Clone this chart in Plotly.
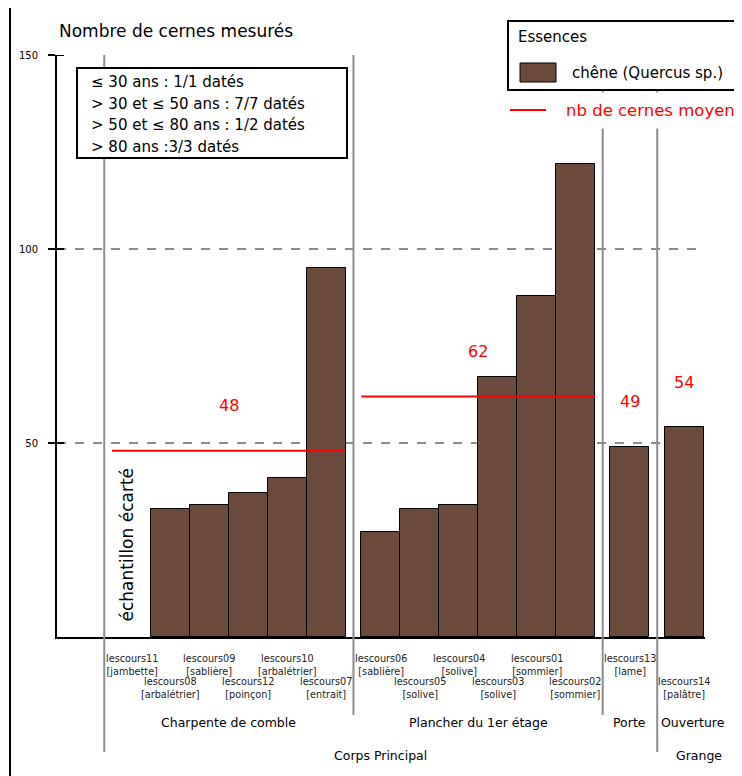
import plotly.graph_objects as go

# ---------------- data ----------------
samples = ["lescours11", "lescours08", "lescours09", "lescours12", "lescours10", "lescours07",
           "lescours06", "lescours05", "lescours04", "lescours03", "lescours01", "lescours02",
           "lescours13", "lescours14"]
pieces = ["jambette", "arbalétrier", "sablière", "poinçon", "arbalétrier", "entrait",
          "sablière", "solive", "solive", "solive", "sommier", "sommier",
          "lame", "palâtre"]
values = [None, 33, 34, 37, 41, 95, 27, 33, 34, 67, 88, 122, 49, 54]
groups = ["Charpente de comble"] * 6 + ["Plancher du 1er étage"] * 6 + ["Porte", "Ouverture"]
buildings = ["Corps Principal"] * 13 + ["Grange"]
group_names = ["Charpente de comble", "Plancher du 1er étage", "Porte", "Ouverture"]
group_means = [48, 62, 49, 54]
y_ticks = [50, 100, 150]
box_lines = ["≤ 30 ans : 1/1 datés", "> 30 et ≤ 50 ans : 7/7 datés",
             "> 50 et ≤ 80 ans : 1/2 datés", "> 80 ans :3/3 datés"]
species = "chêne (Quercus sp.)"
legend_title = "Essences"
mean_label = "nb de cernes moyen"
excluded_label = "échantillon écarté"
title = "Nombre de cernes mesurés"

BROWN = "#6b4a3b"
GREY = "#8c8c8c"
RED = "#ff0000"
FONT = "DejaVu Sans"

# ---------------- layout geometry (page px; page body has an 8px margin) ----------------
OFF = 8
W, H = 742 - OFF, 776 - OFF
PL, PR, PT, PB = 57, 705, 55, 637  # plot area in page px
GAP = 0.4
XMIN, XMAX = -1.913, 14.727


def xp(px):
    return (px - PL) / (PR - PL)


def yp(py):
    return (PB - py) / (PB - PT)


def dx(x):  # data x -> paper
    return (x - XMIN) / (XMAX - XMIN)


# positions with gaps between groups
xs = []
pos = 0.0
for i, g in enumerate(groups):
    if i > 0:
        pos += 1.0
        if g != groups[i - 1]:
            pos += GAP
    xs.append(pos)

fig = go.Figure()
fig.add_trace(go.Bar(x=xs, y=values, width=1.0, name=species,
                     marker=dict(color=BROWN, line=dict(color="black", width=1)),
                     showlegend=False))

shapes = []
annotations = []

# group extents
gx = {}
for g in group_names:
    idx = [i for i, gg in enumerate(groups) if gg == g]
    gx[g] = (xs[idx[0]] - 0.5, xs[idx[-1]] + 0.5)
bx = {}
for b in ["Corps Principal", "Grange"]:
    idx = [i for i, bb in enumerate(buildings) if bb == b]
    bx[b] = (xs[idx[0]] - 0.5, xs[idx[-1]] + 0.5)

# separator lines
first_edge = xs[0] - 0.5 - GAP / 2
seps = [(first_edge, 752)]
for i in range(1, len(groups)):
    if groups[i] != groups[i - 1]:
        xsep = (xs[i - 1] + 0.5 + xs[i] - 0.5) / 2
        long = buildings[i] != buildings[i - 1]
        seps.append((xsep, 752 if long else 715))
for xsep, bottom in seps:
    shapes.append(dict(type="line", xref="paper", yref="paper",
                       x0=dx(xsep), x1=dx(xsep), y0=1.0, y1=yp(bottom),
                       line=dict(color=GREY, width=2), layer="above"))

# mean lines and labels
for g, m in zip(group_names, group_means):
    x0, x1 = gx[g]
    n = sum(1 for gg in groups if gg == g)
    if n > 1:
        shapes.append(dict(type="line", xref="x", yref="y", x0=x0, x1=x1, y0=m, y1=m,
                           line=dict(color=RED, width=2), layer="above"))
    annotations.append(dict(x=(x0 + x1) / 2, y=m, xref="x", yref="y", text=str(m),
                            showarrow=False, yshift=45,
                            font=dict(family=FONT, size=16, color=RED)))

# y tick inner halves
for t in y_ticks:
    shapes.append(dict(type="line", xref="paper", yref="y", x0=0, x1=7 / (PR - PL), y0=t, y1=t,
                       line=dict(color="black", width=2), layer="above"))

# frame
shapes.append(dict(type="line", xref="paper", yref="paper", x0=xp(10), x1=xp(10),
                   y0=yp(5), y1=yp(H + 20), line=dict(color="black", width=2)))
shapes.append(dict(type="line", xref="paper", yref="paper", x0=xp(10), x1=xp(W + 20),
                   y0=yp(5), y1=yp(5), line=dict(color="black", width=2)))

# info box
shapes.append(dict(type="rect", xref="paper", yref="paper", x0=xp(77), x1=xp(347),
                   y0=yp(68), y1=yp(158), fillcolor="white",
                   line=dict(color="black", width=2), layer="above"))
for k, line in enumerate(box_lines):
    annotations.append(dict(x=xp(89), y=yp(82 + k * 21.7), xref="paper", yref="paper",
                            text=line, showarrow=False, xanchor="left", yanchor="middle",
                            font=dict(family=FONT, size=15, color="black")))

# legend box
shapes.append(dict(type="rect", xref="paper", yref="paper", x0=xp(508), x1=xp(740),
                   y0=yp(21), y1=yp(90), fillcolor="white",
                   line=dict(color="black", width=2), layer="above"))
shapes.append(dict(type="rect", xref="paper", yref="paper", x0=xp(520), x1=xp(556),
                   y0=yp(63), y1=yp(82), fillcolor=BROWN,
                   line=dict(color="black", width=1), layer="above"))
annotations.append(dict(x=xp(516), y=yp(37), xref="paper", yref="paper", text=legend_title,
                        showarrow=False, xanchor="left", yanchor="middle",
                        font=dict(family=FONT, size=15, color="black")))
annotations.append(dict(x=xp(570), y=yp(73), xref="paper", yref="paper", text=species,
                        showarrow=False, xanchor="left", yanchor="middle",
                        font=dict(family=FONT, size=15, color="black")))
shapes.append(dict(type="line", xref="paper", yref="paper", x0=xp(510), x1=xp(546),
                   y0=yp(110), y1=yp(110), line=dict(color=RED, width=2), layer="above"))
annotations.append(dict(x=xp(557), y=yp(110), xref="paper", yref="paper", text=mean_label,
                        showarrow=False, xanchor="left", yanchor="middle", bgcolor="white",
                        borderpad=8,
                        font=dict(family=FONT, size=16.5, color=RED)))

# title
annotations.append(dict(x=xp(57), y=yp(31), xref="paper", yref="paper", text=title,
                        showarrow=False, xanchor="left", yanchor="middle",
                        font=dict(family=FONT, size=17, color="black")))

# excluded sample label
annotations.append(dict(x=xs[0], y=0, xref="x", yref="y", text=excluded_label,
                        showarrow=False, textangle=-90, xanchor="center", yanchor="bottom",
                        xshift=-5, yshift=13,
                        font=dict(family=FONT, size=17, color="black")))

# category tick labels (staggered)
for i, (s, p) in enumerate(zip(samples, pieces)):
    top = 651 if i % 2 == 0 else 674
    annotations.append(dict(x=xs[i], y=yp(top), xref="x", yref="paper",
                            text=f"{s}<br>[{p}]", showarrow=False, yanchor="top",
                            font=dict(family=FONT, size=9.7, color="#222222")))

# group labels
for g in group_names:
    x0, x1 = gx[g]
    shift = 9 if g == "Ouverture" else 0
    annotations.append(dict(x=(x0 + x1) / 2, y=yp(722), xref="x", yref="paper", text=g,
                            showarrow=False, yanchor="middle", xshift=shift,
                            font=dict(family=FONT, size=12.5, color="black")))
# building labels
cp = (first_edge + seps[-1][0]) / 2
annotations.append(dict(x=cp, y=yp(755), xref="x", yref="paper", text="Corps Principal",
                        showarrow=False, yanchor="middle",
                        font=dict(family=FONT, size=12.5, color="black")))
annotations.append(dict(x=bx["Grange"][0] + 0.5, y=yp(755), xref="x", yref="paper", text="Grange",
                        showarrow=False, yanchor="middle", xshift=15,
                        font=dict(family=FONT, size=12.5, color="black")))

fig.update_layout(
    width=W, height=H,
    margin=dict(l=PL - OFF, r=W + OFF - PR, t=PT - OFF, b=H + OFF - PB),
    paper_bgcolor="white", plot_bgcolor="white",
    font=dict(family=FONT, color="black"),
    showlegend=False,
    bargap=0,
    xaxis=dict(range=[XMIN, XMAX], showgrid=False, zeroline=False, showline=True,
               linecolor="black", linewidth=2, showticklabels=False, ticks=""),
    yaxis=dict(range=[0, 150], tickvals=y_ticks, showgrid=True, gridcolor=GREY,
               griddash="dash", gridwidth=2, zeroline=False, showline=True,
               linecolor="black", linewidth=2, ticks="outside", ticklen=7, tickwidth=2,
               tickcolor="black", ticklabelstandoff=8,
               tickfont=dict(family=FONT, size=10, color="black")),
    shapes=shapes,
    annotations=annotations,
)

fig.write_html("out.html")
